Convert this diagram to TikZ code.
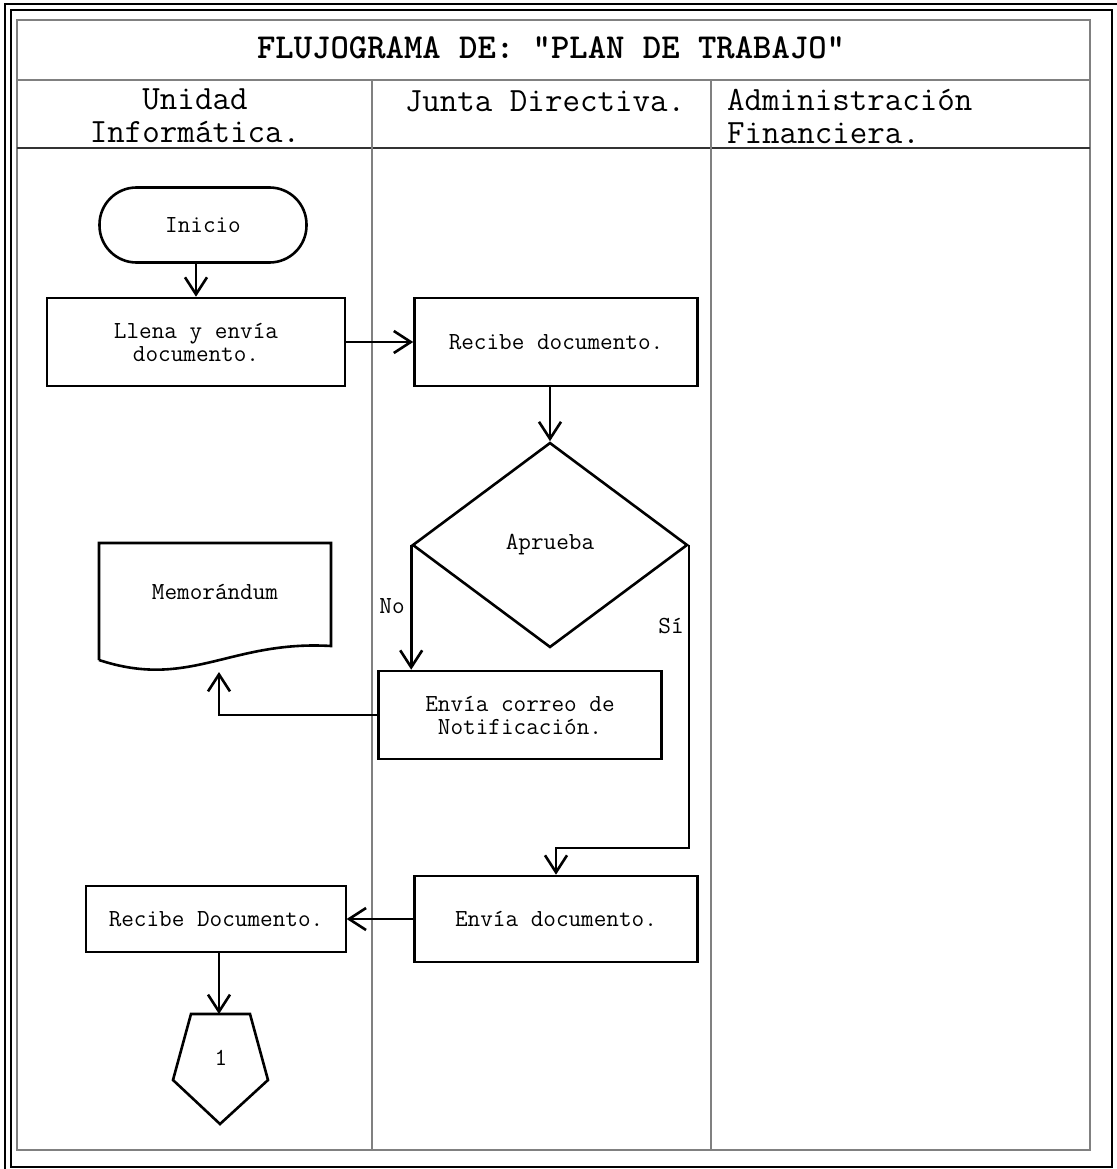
\documentclass[tikz,border=0pt]{standalone}
\usepackage{fontspec}
\usetikzlibrary{arrows.meta,shapes.geometric}

\tikzset{
  caja/.style={draw, line width=2.6pt, minimum width=283pt, minimum height=88pt,
    inner sep=0pt, align=center, font=\ttfamily\fontsize{24.5}{23}\selectfont},
  terminal/.style={caja, rounded corners=37pt, minimum width=207pt, minimum height=75pt},
  decision/.style={diamond, draw, line width=2.6pt, minimum width=275pt,
    minimum height=205pt, inner sep=0pt, font=\ttfamily\fontsize{24.5}{23}\selectfont},
  texto/.style={inner sep=0pt, font=\ttfamily\fontsize{24.5}{23}\selectfont},
  encabezado/.style={inner sep=0pt, font=\ttfamily\fontsize{34}{33}\selectfont},
  linea/.style={gray, line width=1.6pt},
  flecha/.style={line width=2.6pt, -{Straight Barb[length=17pt,width=22pt,line width=2.6pt]}}
}

\begin{document}
\begin{tikzpicture}[x=1pt,y=-1pt]
\useasboundingbox (0,0) rectangle (1116,1169);

%marco doble de la hoja
\draw [line width=2.6pt] (5,4) rectangle (1130,1185);
\draw [line width=2.6pt] (11,10) rectangle (1112,1167);

%tabla de carriles
\draw [linea] (17,20) rectangle (1090,1150);
\draw [linea] (17,80) -- (1090,80);
\draw [line width=1.6pt, black!80] (17,148) -- (1090,148);
\foreach \x in {372,711}
	\draw [linea] (\x,80) -- (\x,1150);

%titulo y encabezados
\node [inner sep=0pt, font=\ttfamily\fontsize{35}{33}\selectfont\bfseries] (titulo) at (551,48) {FLUJOGRAMA DE: “PLAN DE TRABAJO”};
\node [encabezado, align=center] (unidad) at (195,116) {Unidad\\Informática.};
\node [encabezado] (junta) at (545,101) {Junta Directiva.};
\node [encabezado, align=left, anchor=west] (admin) at (727,116) {Administración\\Financiera.};

%nodos del flujo
\node [terminal] (inicio) at (203,225) {Inicio};
\node [caja, minimum width=298pt] (llena) at (196,342) {Llena y envía\\documento.};
\node [caja] (recibe) at (556,342) {Recibe documento.};
\node [decision] (aprueba) at (550,545) {Aprueba};
\node [caja] (notif) at (520,715) {Envía correo de\\Notificación.};
\node [caja, minimum height=86pt] (envia) at (556,919) {Envía documento.};
\node [caja, line width=1.3pt, minimum width=260pt, minimum height=66pt] (recibedoc) at (216,919) {Recibe Documento.};

%memorandum (documento)
\draw [line width=2.6pt] (99,660) -- (99,543) -- (331,543) -- (331,646)
	.. controls (230,640) and (190,690) .. (99,660);
\node [texto] (memo) at (215,592) {Memorándum};
\coordinate (memobase) at (219,672);

%conector fuera de pagina
\draw [line width=2.6pt] (191,1014) -- (250,1014) -- (268,1080) -- (220,1124) -- (173,1080) -- cycle;
\node [texto] (conector) at (221,1058) {1};
\coordinate (conectorTop) at (219,1014);

%etiquetas
\node [texto] (no) at (392,606) {No};
\node [texto] (si) at (671,626) {Sí};

%flechas
\draw [flecha] (llena.north |- inicio.south) -- (llena.north);
\draw [flecha] (llena.east) -- (recibe.west);
\draw [flecha] (aprueba.north |- recibe.south) -- (aprueba.north);
\draw [flecha] (aprueba.west) -- (aprueba.west |- notif.north);
\draw [flecha] (notif.west) -| (memobase);
\draw [flecha] (aprueba.east) -- ++(0,303) -| (envia.north);
\draw [flecha] (envia.west) -- (recibedoc.east);
\draw [flecha] (recibedoc.south -| conectorTop) -- (conectorTop);
\end{tikzpicture}
\end{document}
